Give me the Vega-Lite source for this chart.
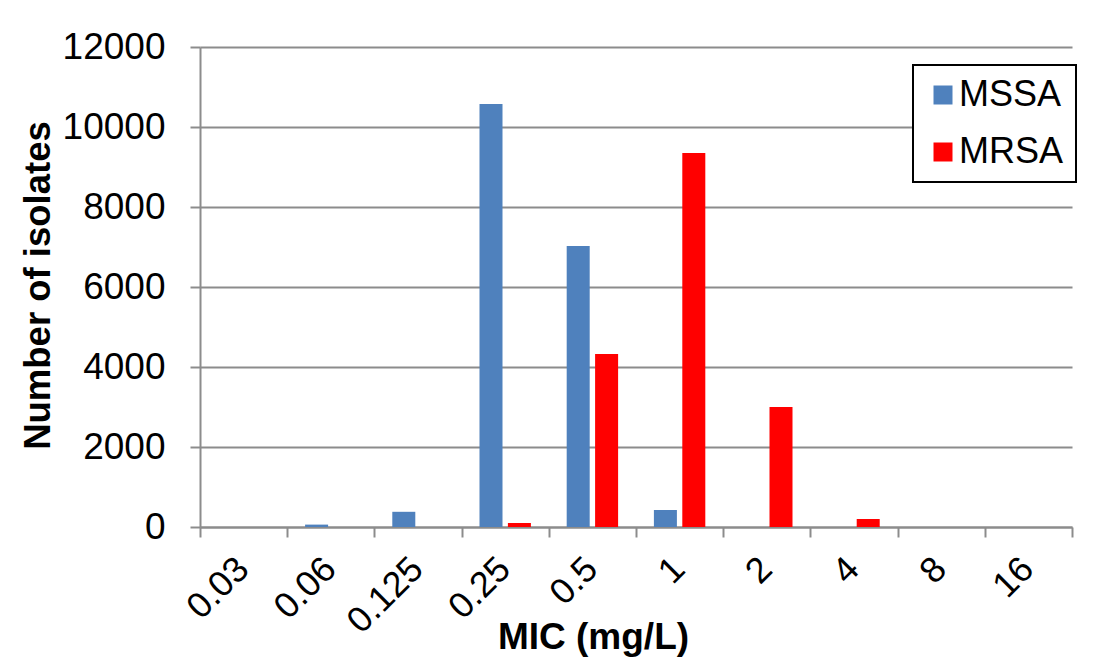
{
  "$schema": "https://vega.github.io/schema/vega-lite/v6.json",
  "autosize": "none",
  "width": 872,
  "height": 480,
  "padding": {"left": 200, "top": 47, "right": 27, "bottom": 141},
  "background": "white",
  "data": {
    "values": [
      {"mic": "0.03", "group": "MSSA", "count": 0},
      {"mic": "0.06", "group": "MSSA", "count": 60},
      {"mic": "0.125", "group": "MSSA", "count": 380},
      {"mic": "0.25", "group": "MSSA", "count": 10575},
      {"mic": "0.5", "group": "MSSA", "count": 7025},
      {"mic": "1", "group": "MSSA", "count": 425},
      {"mic": "2", "group": "MSSA", "count": 0},
      {"mic": "4", "group": "MSSA", "count": 0},
      {"mic": "8", "group": "MSSA", "count": 0},
      {"mic": "16", "group": "MSSA", "count": 0},
      {"mic": "0.03", "group": "MRSA", "count": 0},
      {"mic": "0.06", "group": "MRSA", "count": 0},
      {"mic": "0.125", "group": "MRSA", "count": 0},
      {"mic": "0.25", "group": "MRSA", "count": 100},
      {"mic": "0.5", "group": "MRSA", "count": 4325},
      {"mic": "1", "group": "MRSA", "count": 9350},
      {"mic": "2", "group": "MRSA", "count": 3000},
      {"mic": "4", "group": "MRSA", "count": 200},
      {"mic": "8", "group": "MRSA", "count": 0},
      {"mic": "16", "group": "MRSA", "count": 0}
    ]
  },
  "mark": {"type": "bar"},
  "encoding": {
    "x": {
      "field": "mic",
      "type": "nominal",
      "sort": ["0.03", "0.06", "0.125", "0.25", "0.5", "1", "2", "4", "8", "16"],
      "scale": {"paddingInner": 0, "paddingOuter": 0},
      "axis": {
        "title": "MIC (mg/L)",
        "titleFont": "Liberation Sans",
        "titleFontSize": 37,
        "titleFontWeight": "bold",
        "titleColor": "black",
        "titleX": 393,
        "titleY": 121,
        "titleAlign": "center",
        "titleBaseline": "alphabetic",
        "labelAngle": -45,
        "labelAlign": "right",
        "labelBaseline": "middle",
        "labelFont": "Liberation Sans",
        "labelFontSize": 36,
        "labelColor": "black",
        "labelPadding": 26,
        "labelOffset": -1,
        "tickBand": "extent",
        "tickSize": 10,
        "tickColor": "#8c8c8c",
        "tickWidth": 2,
        "domainColor": "#8c8c8c",
        "domainWidth": 2,
        "grid": false
      }
    },
    "xOffset": {
      "field": "group",
      "type": "nominal",
      "sort": ["MSSA", "MRSA"],
      "scale": {"paddingInner": 0.19, "paddingOuter": 0.63}
    },
    "y": {
      "field": "count",
      "type": "quantitative",
      "scale": {"domain": [0, 12000]},
      "axis": {
        "title": "Number of isolates",
        "titleFont": "Liberation Sans",
        "titleFontSize": 36.5,
        "titleFontWeight": "bold",
        "titleColor": "black",
        "titleAngle": -90,
        "titleX": -162,
        "titleY": 238,
        "titleAlign": "center",
        "titleBaseline": "middle",
        "values": [0, 2000, 4000, 6000, 8000, 10000, 12000],
        "format": "d",
        "labelFont": "Liberation Sans",
        "labelFontSize": 37,
        "labelColor": "black",
        "labelPadding": 25,
        "tickSize": 10,
        "tickColor": "#8c8c8c",
        "tickWidth": 2,
        "domainColor": "#8c8c8c",
        "domainWidth": 2,
        "gridColor": "#8c8c8c",
        "gridWidth": 2
      }
    },
    "color": {
      "field": "group",
      "type": "nominal",
      "sort": ["MSSA", "MRSA"],
      "scale": {"domain": ["MSSA", "MRSA"], "range": ["#4F81BD", "#FF0000"]},
      "legend": {
        "title": null,
        "orient": "none",
        "legendX": 713,
        "legendY": 18,
        "padding": 12,
        "strokeColor": "black",
        "fillColor": "white",
        "symbolType": "square",
        "symbolSize": 361,
        "symbolStrokeWidth": 0,
        "symbolOffset": 0,
        "labelFont": "Liberation Sans",
        "labelFontSize": 36,
        "labelColor": "black",
        "labelOffset": -2,
        "rowPadding": 21
      }
    }
  },
  "config": {
    "view": {"stroke": null},
    "legend": {"strokeWidth": 2}
  }
}
